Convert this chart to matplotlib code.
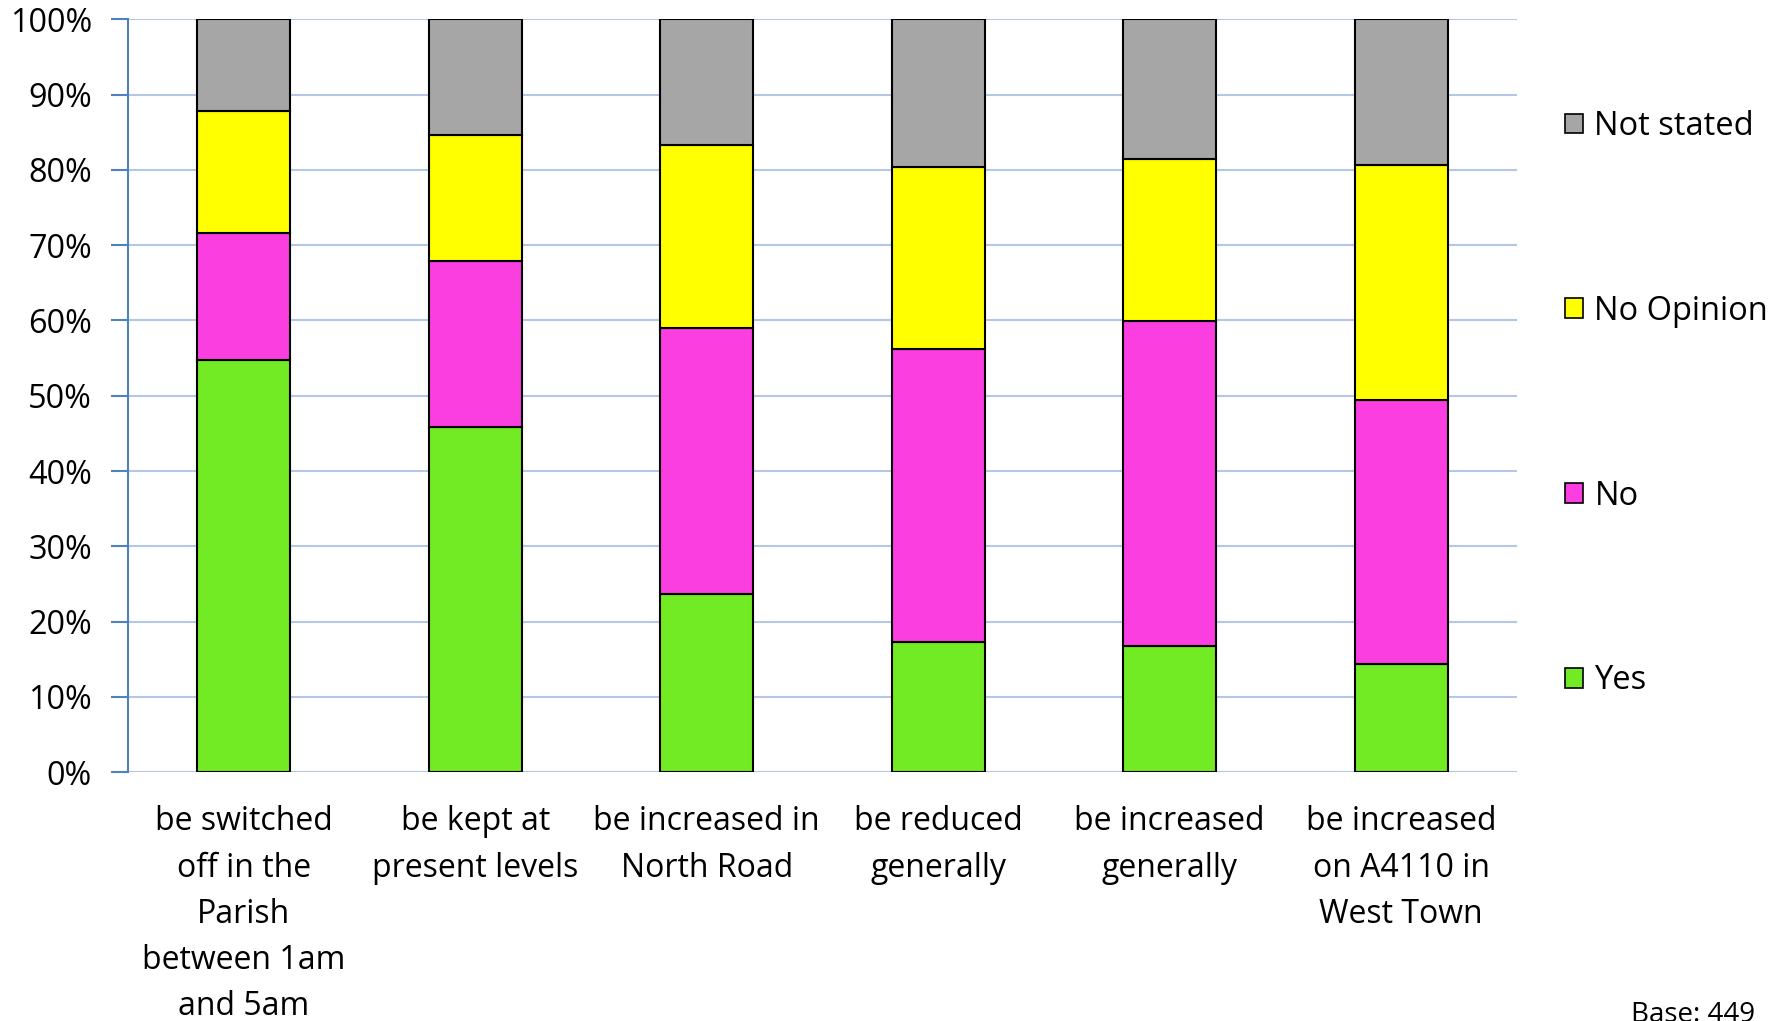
import matplotlib
matplotlib.use("Agg")
import matplotlib.pyplot as plt
from matplotlib.patches import Patch
import numpy as np

categories = [
    "be switched\noff in the\nParish\nbetween 1am\nand 5am",
    "be kept at\npresent levels",
    "be increased in\nNorth Road",
    "be reduced\ngenerally",
    "be increased\ngenerally",
    "be increased\non A4110 in\nWest Town",
]
yes = [54.8, 45.9, 23.6, 17.3, 16.8, 14.4]
no = [16.8, 22.0, 35.4, 38.9, 43.1, 35.1]
no_opinion = [16.2, 16.8, 24.3, 24.2, 21.5, 31.1]
not_stated = [12.2, 15.3, 16.7, 19.6, 18.6, 19.4]
series_names = ["Yes", "No", "No Opinion", "Not stated"]
colors = ["#72EA24", "#FA3EE0", "#FFFF00", "#A6A6A6"]
y_ticks = [0, 10, 20, 30, 40, 50, 60, 70, 80, 90, 100]

plt.rcParams['font.family'] = ['Open Sans', 'DejaVu Sans']

fig = plt.figure(figsize=(17.85, 10.21), dpi=100)
ax = fig.add_axes([128/1785, 1-772/1021, (1517-128)/1785, (772-19.5)/1021])

x = np.arange(len(categories))
bottom = np.zeros(len(categories))
handles = []
for name, vals, c in zip(series_names, [yes, no, no_opinion, not_stated], colors):
    ax.bar(x, vals, bottom=bottom, width=0.40, color=c, edgecolor="black", linewidth=1.5, zorder=3)
    bottom += np.array(vals)
    handles.append(Patch(facecolor=c, edgecolor="black", linewidth=1.2, label=name))

ax.set_xlim(-0.5, len(categories)-0.5)
ax.set_ylim(0, 100)
ax.set_yticks(y_ticks)
ax.set_yticklabels([f"{t}%" for t in y_ticks])
ax.set_xticks(x)
ax.set_xticklabels(categories, linespacing=1.53)
ax.tick_params(axis='x', length=0, pad=24, labelsize=23)
ax.tick_params(axis='y', length=12, width=1.5, color="#4F81BD", direction='out', pad=14, labelsize=23.3)
ax.grid(axis='y', color="#B4C7E7", linewidth=1.5, zorder=0)
ax.set_axisbelow(True)
for s in ['top', 'right', 'bottom']:
    ax.spines[s].set_visible(False)
ax.spines['left'].set_color("#4F81BD")
ax.spines['left'].set_linewidth(1.5)

leg = fig.legend(handles=handles[::-1], loc='upper left', bbox_to_anchor=(1565/1785, 1-110/1021),
                 frameon=False, fontsize=23.5, handlelength=0.55, handleheight=0.55,
                 handletextpad=0.35, labelspacing=4.65, borderaxespad=0, borderpad=0)

fig.text(1693/1785, 1-1001/1021, "Base: 449", ha='center', va='top', fontsize=20)

fig.savefig("out.png", dpi=100)
